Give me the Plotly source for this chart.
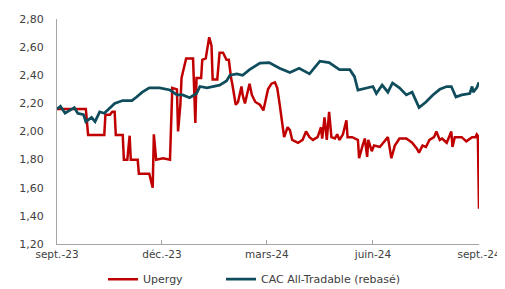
import plotly.graph_objects as go

# CAC All-Tradable (rebasé)
cac_dates = ["2023-09-01","2023-09-04","2023-09-08","2023-09-12","2023-09-16","2023-09-19","2023-09-24",
             "2023-09-26","2023-10-01","2023-10-04","2023-10-08","2023-10-12","2023-10-17","2023-10-21",
             "2023-10-28","2023-11-05","2023-11-09","2023-11-14","2023-11-20","2023-11-29","2023-12-08",
             "2023-12-14","2023-12-19","2023-12-25","2023-12-31","2024-01-03","2024-01-09","2024-01-14",
             "2024-01-20","2024-01-26","2024-01-29","2024-02-04","2024-02-09","2024-02-15","2024-02-21",
             "2024-02-24","2024-03-03","2024-03-12","2024-03-21","2024-03-29","2024-04-07","2024-04-16",
             "2024-04-24","2024-05-03","2024-05-12","2024-05-16","2024-05-19","2024-05-27","2024-06-01",
             "2024-06-04","2024-06-09","2024-06-14","2024-06-18","2024-06-24","2024-06-30","2024-07-05",
             "2024-07-11","2024-07-17","2024-07-23","2024-07-29","2024-08-04","2024-08-08","2024-08-12",
             "2024-08-17","2024-08-24","2024-08-26","2024-08-27","2024-08-30","2024-09-01"]
cac_values = [2.16,2.18,2.13,2.15,2.17,2.13,2.12,
              2.07,2.10,2.07,2.14,2.13,2.17,2.20,
              2.22,2.22,2.245,2.28,2.31,2.31,2.295,
              2.26,2.26,2.24,2.27,2.32,2.31,2.32,
              2.33,2.36,2.40,2.41,2.40,2.44,2.47,
              2.487,2.49,2.45,2.42,2.45,2.41,2.50,
              2.49,2.44,2.44,2.39,2.295,2.31,2.32,
              2.27,2.33,2.28,2.345,2.31,2.26,2.28,
              2.17,2.21,2.26,2.30,2.32,2.32,2.245,
              2.26,2.27,2.32,2.28,2.31,2.35]

# Upergy
up_dates = ["2023-09-01","2023-09-26","2023-09-28","2023-10-12","2023-10-13","2023-10-17","2023-10-19",
            "2023-10-21","2023-10-22","2023-10-28","2023-10-29","2023-11-01","2023-11-03","2023-11-04",
            "2023-11-10","2023-11-11","2023-11-20","2023-11-23","2023-11-24","2023-11-26","2023-12-02",
            "2023-12-08","2023-12-10","2023-12-14","2023-12-15","2023-12-17","2023-12-18","2023-12-22",
            "2023-12-28","2023-12-30","2023-12-31","2024-01-04","2024-01-05","2024-01-08","2024-01-11",
            "2024-01-13","2024-01-14","2024-01-18","2024-01-20","2024-01-23","2024-01-26","2024-01-28",
            "2024-01-30","2024-01-31","2024-02-03","2024-02-05","2024-02-08","2024-02-09","2024-02-11",
            "2024-02-13","2024-02-15","2024-02-17","2024-02-20","2024-02-24","2024-02-27","2024-03-02",
            "2024-03-05","2024-03-08","2024-03-10","2024-03-12","2024-03-15","2024-03-16","2024-03-19",
            "2024-03-21","2024-03-23","2024-03-28","2024-04-01","2024-04-04","2024-04-07","2024-04-10",
            "2024-04-14","2024-04-17","2024-04-18","2024-04-20","2024-04-22","2024-04-24","2024-04-26",
            "2024-04-29","2024-05-01","2024-05-03","2024-05-06","2024-05-09","2024-05-10","2024-05-14",
            "2024-05-19","2024-05-20","2024-05-23","2024-05-25","2024-05-27","2024-05-28","2024-05-31",
            "2024-06-02","2024-06-07","2024-06-11","2024-06-14","2024-06-17","2024-06-20","2024-06-24",
            "2024-06-30","2024-07-05","2024-07-09","2024-07-11","2024-07-14","2024-07-17","2024-07-20",
            "2024-07-24","2024-07-26","2024-07-29","2024-07-31","2024-08-04","2024-08-08","2024-08-09",
            "2024-08-11","2024-08-17","2024-08-21","2024-08-26","2024-08-29","2024-08-30","2024-08-31",
            "2024-09-01"]
up_values = [2.16,2.16,1.975,1.975,2.12,2.12,2.14,
             2.14,1.975,1.975,1.80,1.80,1.97,1.80,
             1.80,1.70,1.70,1.60,1.98,1.80,1.81,
             1.80,2.31,2.30,2.00,2.19,2.38,2.52,
             2.52,2.06,2.38,2.38,2.51,2.52,2.67,
             2.61,2.37,2.37,2.56,2.56,2.51,2.51,
             2.38,2.34,2.19,2.21,2.32,2.26,2.20,
             2.28,2.34,2.26,2.21,2.19,2.15,2.30,
             2.34,2.35,2.31,2.20,2.03,1.96,2.03,
             2.01,1.94,1.92,1.94,2.00,1.96,1.94,
             1.96,2.03,1.95,2.10,1.94,2.14,1.96,
             1.95,1.98,1.94,1.98,2.08,1.96,1.96,
             1.94,1.81,1.90,1.95,1.82,1.94,1.86,
             1.90,1.89,1.93,1.96,1.81,1.90,1.95,
             1.95,1.92,1.88,1.85,1.90,1.89,1.94,
             1.96,2.00,1.94,1.95,1.92,2.00,1.89,
             1.96,1.96,1.93,1.96,1.96,1.98,1.97,
             1.45]

x_tick_vals = ["2023-09-01","2023-12-01","2024-03-01","2024-06-01","2024-09-01"]
x_tick_text = ["sept.-23","déc.-23","mars-24","juin-24","sept.-24"]
y_tick_vals = [1.20,1.40,1.60,1.80,2.00,2.20,2.40,2.60,2.80]

RED = "#C00000"
TEAL = "#0F4C5C"
AXIS = "#A6A6A6"
FONT = "DejaVu Sans"

fig = go.Figure()
fig.add_trace(go.Scatter(x=up_dates, y=up_values, mode="lines", name="Upergy",
                         line=dict(color=RED, width=2.5), legendwidth=73))
fig.add_trace(go.Scatter(x=cac_dates, y=cac_values, mode="lines", name="CAC All-Tradable (rebasé)",
                         line=dict(color=TEAL, width=2.75)))

# page body has an 8px default margin: figure is sized to fit the 505x289 window
fig.update_layout(
    width=497, height=281,
    margin=dict(l=49, r=26, t=11, b=45, autoexpand=False),
    paper_bgcolor="white", plot_bgcolor="white",
    separators=", ",
    font=dict(family=FONT, size=11, color="#404040"),
    showlegend=True,
    legend=dict(orientation="h", x=0.468, xanchor="center",
                yref="container", y=0.035, yanchor="middle",
                font=dict(family=FONT, size=11, color="#404040"),
                traceorder="normal"),
    xaxis=dict(type="date", range=["2023-09-01", "2024-09-01"],
               tickvals=x_tick_vals, ticktext=x_tick_text,
               tickfont=dict(size=10.5),
               showgrid=False, zeroline=False, automargin=False,
               showline=True, linecolor=AXIS, linewidth=1,
               ticks="inside", ticklen=4, tickcolor=AXIS),
    yaxis=dict(range=[1.20, 2.80], tickvals=y_tick_vals, tickformat=".2f",
               showgrid=False, zeroline=False, automargin=False,
               showline=True, linecolor=AXIS, linewidth=1,
               ticks="", ticklabelstandoff=10),
)

fig.write_html("out.html")
